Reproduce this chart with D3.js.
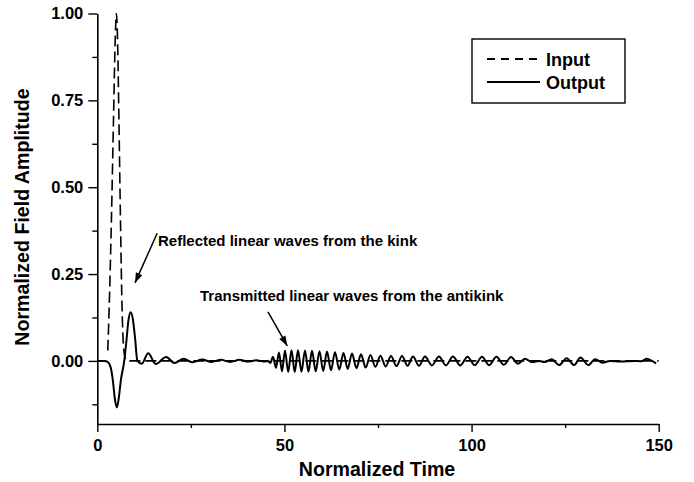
<!DOCTYPE html>
<html><head><meta charset="utf-8">
<script src="https://cdn.jsdelivr.net/npm/d3@7"></script>
<style>
html,body{margin:0;padding:0;background:#fff;}
svg text{font-family:"Liberation Sans",Arial,Helvetica,sans-serif;font-weight:bold;fill:#000;}
</style></head>
<body>
<svg id="chart" width="694" height="482"></svg>
<script>
// ---- data ----
const inputT = [2.8, 3.3, 3.8, 4.3, 4.8, 5.1, 5.4, 5.8, 6.2, 6.6, 6.9, 7.3, 7.8, 150];
const inputV = [0.03, 0.2, 0.42, 0.68, 0.93, 1.0, 0.93, 0.68, 0.4, 0.16, 0.06, 0.015, 0.0, 0.0];

const outputT = [0, 2.0, 2.8, 3.6, 4.2, 4.7, 5.2, 5.7, 6.3, 7.2, 7.8, 8.3, 8.9, 9.5, 10.1, 10.7,
  11.9, 13.6, 15.6, 18.4, 20.6, 23.1, 25.5, 28.0, 30.5, 33.0, 35.5, 38.0, 40.3, 42.5, 44.5, 45.6, 46.2,
  46.94, 47.74, 48.54, 49.35, 50.15, 51.0, 51.88, 52.75, 53.62, 54.55, 55.49, 56.42, 57.36, 58.36,
  59.36, 60.36, 61.37, 62.44, 63.51, 64.65, 65.78, 66.9, 68.05, 69.25, 70.45, 71.7, 72.99, 74.3,
  75.66, 77.05, 78.47, 79.95, 81.41, 82.9, 84.35, 85.95, 87.55, 89.4, 91.29, 93.15, 95.03, 97.0,
  98.91, 100.85, 102.78, 104.7, 106.65, 108.6, 110.53, 112.4, 114.27, 116.2, 118.0, 119.5,
  121.4, 123.4, 125.4, 127.4, 129.1, 131.2, 133.0, 135.0, 137.0, 139.7, 143.7, 145.3, 146.8, 148.2, 149.3];
const outputV = [0, 0, -0.003, -0.02, -0.06, -0.11, -0.134, -0.11, -0.055, 0.0, 0.06, 0.115, 0.14, 0.12, 0.065, 0.0,
  -0.008, 0.022, -0.009, 0.011, -0.006, 0.006, -0.004, 0.004, -0.003, 0.003, -0.003, 0.003, -0.002, 0.002, -0.002, 0.0, -0.006,
  0.012, -0.02, 0.024, -0.03, 0.03, -0.032, 0.031, -0.032, 0.031, -0.031, 0.03, -0.031, 0.029, -0.03,
  0.028, -0.029, 0.027, -0.027, 0.025, -0.025, 0.023, -0.023, 0.021, -0.021, 0.019, -0.019, 0.017, -0.017,
  0.015, -0.016, 0.014, -0.015, 0.014, -0.014, 0.013, -0.014, 0.013, -0.013, 0.013, -0.013, 0.013, -0.013,
  0.012, -0.012, 0.012, -0.012, 0.012, -0.011, 0.011, -0.008, 0.006, -0.004, 0.0, -0.003,
  0.005, -0.012, 0.008, -0.012, 0.01, -0.012, 0.005, -0.005, 0.0, -0.002, 0.0, -0.001, 0.006, 0.0, -0.007];

const xMajor = [0, 50, 100, 150];
const xMinor = [25, 75, 125];
const yMajor = [0, 0.25, 0.5, 0.75, 1.0];
const yMinor = [-0.125, 0.125, 0.375, 0.625, 0.875];

const legendLabels = ["Input", "Output"];
const annoText = ["Reflected linear waves from the kink", "Transmitted linear waves from the antikink"];

// ---- drawing ----
const svg = d3.select("#chart");
const x = d3.scaleLinear().domain([0, 150]).range([97.3, 658.7]);
const y = d3.scaleLinear().domain([-0.1816, 1.0]).range([424, 13.5]);

const line = d3.line().x(d => x(d[0])).y(d => y(d[1])).curve(d3.curveMonotoneX);

const inputData = inputT.map((t, i) => [t, inputV[i]]);
const outputData = outputT.map((t, i) => [t, outputV[i]]);

svg.append("path").datum(inputData).attr("d", line)
  .attr("fill", "none").attr("stroke", "#000").attr("stroke-width", 1.6)
  .attr("stroke-dasharray", "11,5");
svg.append("path").datum(outputData).attr("d", line)
  .attr("fill", "none").attr("stroke", "#000").attr("stroke-width", 2);

// axes
const gx = svg.append("g").attr("transform", `translate(0,${y.range()[0]})`)
  .call(d3.axisBottom(x).tickValues(xMajor).tickFormat(d3.format("d")).tickSize(8).tickPadding(7).tickSizeOuter(0));
const gxm = svg.append("g").attr("transform", `translate(0,${y.range()[0]})`)
  .call(d3.axisBottom(x).tickValues(xMinor).tickFormat("").tickSize(4).tickSizeOuter(0));
gxm.select(".domain").remove();

const gy = svg.append("g").attr("transform", `translate(${x.range()[0]},0)`)
  .call(d3.axisLeft(y).tickValues(yMajor).tickFormat(d3.format(".2f")).tickSize(9).tickPadding(5).tickSizeOuter(0));
const gym = svg.append("g").attr("transform", `translate(${x.range()[0]},0)`)
  .call(d3.axisLeft(y).tickValues(yMinor).tickFormat("").tickSize(5).tickSizeOuter(0));
gym.select(".domain").remove();

svg.selectAll(".domain").attr("stroke", "#000").attr("stroke-width", 1.6);
svg.selectAll(".tick line").attr("stroke", "#000").attr("stroke-width", 1.4);
svg.selectAll(".tick text").attr("font-size", 16.5).attr("font-family", "Liberation Sans, Arial, sans-serif").attr("font-weight", "bold").attr("fill", "#000");

// axis titles
svg.append("text").attr("x", 377).attr("y", 476).attr("text-anchor", "middle")
  .attr("font-size", 19.6).text("Normalized Time");
svg.append("text").attr("transform", "translate(29,217) rotate(-90)").attr("text-anchor", "middle")
  .attr("font-size", 19.6).text("Normalized Field Amplitude");

// legend
const lg = svg.append("g");
lg.append("rect").attr("x", 472).attr("y", 39).attr("width", 153).attr("height", 64)
  .attr("fill", "#fff").attr("stroke", "#000").attr("stroke-width", 1.4);
const legRows = [{y: 59, dash: "8,6"}, {y: 82, dash: null}];
legRows.forEach((r, i) => {
  lg.append("line").attr("x1", 487).attr("x2", 540).attr("y1", r.y).attr("y2", r.y)
    .attr("stroke", "#000").attr("stroke-width", 1.8).attr("stroke-dasharray", r.dash);
  lg.append("text").attr("x", 546).attr("y", r.y + 6.5).attr("font-size", 18).text(legendLabels[i]);
});

// annotations
function arrow(x0, y0, x1, y1) {
  svg.append("line").attr("x1", x0).attr("y1", y0).attr("x2", x1).attr("y2", y1)
    .attr("stroke", "#000").attr("stroke-width", 1.5);
  const a = Math.atan2(y1 - y0, x1 - x0), L = 10, W = 3.5;
  const bx = x1 - L * Math.cos(a), by = y1 - L * Math.sin(a);
  const px = -Math.sin(a) * W, py = Math.cos(a) * W;
  svg.append("path").attr("d", `M${x1},${y1}L${bx + px},${by + py}L${bx - px},${by - py}Z`).attr("fill", "#000");
}
svg.append("text").attr("x", 158).attr("y", 246).attr("font-size", 15).text(annoText[0]);
arrow(x(16.0), y(0.3676), x(10.07), y(0.2245));
svg.append("text").attr("x", 200).attr("y", 301).attr("font-size", 15).text(annoText[1]);
arrow(x(45.6), y(0.141), x(50.76), y(0.043));
</script>
</body></html>
